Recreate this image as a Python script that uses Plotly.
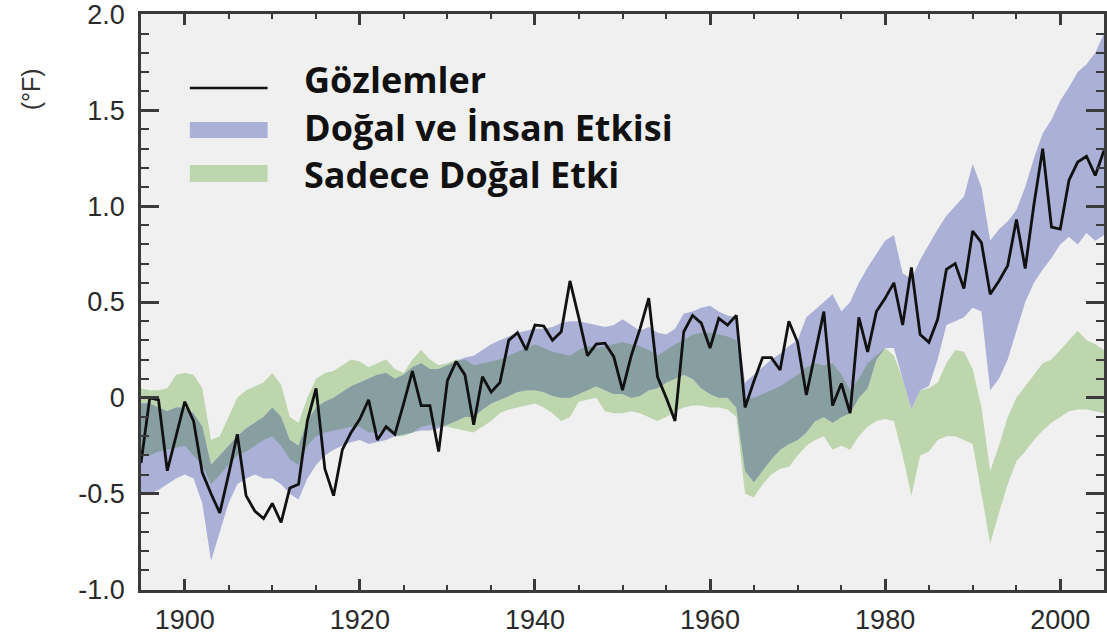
import plotly.graph_objects as go

years = list(range(1895, 2006))

observations = [
    -0.34, 0.0, -0.01, -0.38, -0.2, -0.02, -0.12, -0.39, -0.5, -0.6,      # 1895-1904
    -0.4, -0.19, -0.51, -0.59, -0.63, -0.55, -0.65, -0.47, -0.45, -0.12,  # 1905-1914
    0.05, -0.37, -0.51, -0.27, -0.18, -0.11, -0.01, -0.22, -0.15, -0.19,  # 1915-1924
    -0.03, 0.14, -0.04, -0.04, -0.28, 0.09, 0.19, 0.12, -0.14, 0.11,      # 1925-1934
    0.03, 0.08, 0.30, 0.34, 0.25, 0.38, 0.375, 0.30, 0.345, 0.61,        # 1935-1944
    0.42, 0.22, 0.28, 0.285, 0.215, 0.04, 0.22, 0.36, 0.52, 0.11,        # 1945-1954
    0.0, -0.12, 0.345, 0.43, 0.39, 0.26, 0.415, 0.38, 0.43, -0.05,       # 1955-1964
    0.085, 0.21, 0.21, 0.145, 0.40, 0.29, 0.015, 0.23, 0.45, -0.04,      # 1965-1974
    0.075, -0.08, 0.42, 0.24, 0.45, 0.52, 0.60, 0.38, 0.68, 0.33,        # 1975-1984
    0.29, 0.41, 0.67, 0.70, 0.57, 0.87, 0.81, 0.54, 0.61, 0.69,          # 1985-1994
    0.93, 0.675, 1.01, 1.30, 0.89, 0.88, 1.135, 1.23, 1.26, 1.16,        # 1995-2004
    1.29,                                                                # 2005
]

nat_human_upper = [
    -0.03, -0.03, -0.05, -0.07, -0.05, -0.05, -0.08, -0.15, -0.35, -0.3,
    -0.25, -0.2, -0.16, -0.13, -0.1, -0.05, -0.1, -0.22, -0.25, -0.12,
    -0.05, -0.02, 0.0, 0.03, 0.06, 0.08, 0.1, 0.12, 0.13, 0.1,
    0.12, 0.16, 0.18, 0.15, 0.15, 0.17, 0.19, 0.21, 0.22, 0.25,
    0.28, 0.3, 0.32, 0.34, 0.35, 0.36, 0.36, 0.37, 0.39, 0.4,
    0.4, 0.39, 0.38, 0.37, 0.38, 0.41, 0.38, 0.35, 0.37, 0.34,
    0.33, 0.36, 0.44, 0.45, 0.47, 0.48, 0.45, 0.43, 0.42, 0.08,
    0.12, 0.16, 0.2, 0.23, 0.27, 0.3, 0.42, 0.46, 0.5, 0.54,
    0.45, 0.5, 0.6, 0.68, 0.75, 0.82, 0.85, 0.65, 0.62, 0.72,
    0.8, 0.88, 0.95, 1.0, 1.05, 1.22, 1.1, 0.82, 0.88, 0.92,
    0.98, 1.1, 1.25, 1.38, 1.45, 1.55, 1.62, 1.7, 1.74, 1.8,
    1.9,
]

nat_human_lower = [
    -0.5, -0.5, -0.48, -0.45, -0.42, -0.4, -0.42, -0.55, -0.85, -0.7,
    -0.55, -0.45, -0.42, -0.4, -0.42, -0.42, -0.45, -0.5, -0.53, -0.42,
    -0.35, -0.3, -0.27, -0.25, -0.23, -0.22, -0.24, -0.23, -0.22, -0.2,
    -0.19, -0.18, -0.17, -0.17, -0.16, -0.14, -0.12, -0.1, -0.1, -0.06,
    -0.03, -0.01, 0.01, 0.03, 0.04, 0.04, 0.03, 0.01, 0.0, 0.0,
    0.02, 0.04, 0.06, 0.04, 0.02, 0.02, 0.0, 0.01, 0.04, 0.05,
    0.08, 0.1, 0.12, 0.1, 0.05, 0.02, 0.0, 0.0, -0.05, -0.38,
    -0.44, -0.38, -0.32, -0.27, -0.24, -0.22, -0.18, -0.12, -0.1, -0.13,
    -0.1, -0.08, 0.0, 0.05, 0.2, 0.26, 0.26, 0.1, -0.06, 0.04,
    0.06, 0.2, 0.38, 0.4, 0.42, 0.47, 0.45, 0.04, 0.1, 0.2,
    0.35, 0.5, 0.6, 0.67, 0.73, 0.8, 0.84, 0.8, 0.86, 0.82,
    0.85,
]

natural_upper = [
    0.05, 0.04, 0.04, 0.05, 0.12, 0.13, 0.12, 0.05, -0.22, -0.2,
    -0.1, 0.0, 0.04, 0.06, 0.08, 0.13, 0.07, -0.1, -0.13, 0.0,
    0.1, 0.13, 0.14, 0.17, 0.2, 0.19, 0.16, 0.18, 0.2, 0.15,
    0.13, 0.2, 0.25, 0.2, 0.17, 0.18, 0.2, 0.2, 0.17, 0.18,
    0.19, 0.2, 0.22, 0.24, 0.26, 0.28, 0.26, 0.24, 0.23, 0.22,
    0.25, 0.27, 0.26, 0.27, 0.28, 0.29, 0.28, 0.27, 0.25, 0.22,
    0.25, 0.28, 0.3, 0.33, 0.34, 0.34, 0.33, 0.32, 0.3, 0.0,
    0.0, 0.02, 0.04, 0.06, 0.09, 0.12, 0.16, 0.18, 0.17, 0.18,
    0.12, 0.04, 0.1, 0.18, 0.22, 0.26, 0.22, 0.1, -0.06, 0.04,
    0.05, 0.08, 0.18, 0.25, 0.24, 0.15, -0.05, -0.38, -0.25, -0.1,
    0.0, 0.06, 0.12, 0.18, 0.2, 0.25, 0.3, 0.35, 0.3, 0.28,
    0.25,
]

natural_lower = [
    -0.3, -0.3, -0.28, -0.27, -0.26, -0.25, -0.3, -0.35, -0.45, -0.4,
    -0.35, -0.3, -0.28, -0.25, -0.22, -0.2, -0.25, -0.32, -0.35, -0.25,
    -0.2, -0.18, -0.17, -0.16, -0.15, -0.15, -0.18, -0.18, -0.17, -0.2,
    -0.2, -0.18, -0.15, -0.14, -0.15, -0.15, -0.16, -0.17, -0.18, -0.15,
    -0.12, -0.08, -0.06, -0.05, -0.04, -0.03, -0.05, -0.08, -0.12, -0.1,
    -0.02, -0.01, 0.0, -0.07, -0.08, -0.08, -0.07, -0.08, -0.1, -0.12,
    -0.1, -0.07, -0.05, -0.04, -0.04, -0.05, -0.05, -0.06, -0.1, -0.5,
    -0.52, -0.45, -0.4, -0.37, -0.36, -0.3, -0.25, -0.22, -0.2, -0.27,
    -0.25, -0.27, -0.2, -0.15, -0.12, -0.11, -0.12, -0.3, -0.51, -0.3,
    -0.28, -0.22, -0.2, -0.2, -0.22, -0.24, -0.5, -0.76, -0.6, -0.45,
    -0.33, -0.28, -0.22, -0.17, -0.13, -0.1, -0.07, -0.06, -0.06, -0.07,
    -0.08,
]

legend_labels = ["Gözlemler", "Doğal ve İnsan Etkisi", "Sadece Doğal Etki"]
y_tick_vals = [-1.0, -0.5, 0, 0.5, 1.0, 1.5, 2.0]
y_tick_text = ["-1.0", "-0.5", "0", "0.5", "1.0", "1.5", "2.0"]
x_tick_vals = [1900, 1920, 1940, 1960, 1980, 2000]
y_unit = "(°F)"

BLUE = "#aab0d6"
GREEN = "#bdd6ae"
OVERLAP = "#889fa2"
BG = "#f0f0f0"

# overlap of the two envelopes
ov_hi, ov_lo = [], []
for a, b, c, d in zip(nat_human_upper, natural_upper, nat_human_lower, natural_lower):
    hi = min(a, b)
    lo = max(c, d)
    if lo > hi:
        mid = (hi + lo) / 2
        hi = lo = mid
    ov_hi.append(hi)
    ov_lo.append(lo)

fig = go.Figure()

def band(lower, upper, color):
    fig.add_trace(go.Scatter(x=years, y=lower, mode="lines", line=dict(width=0, color=color),
                             hoverinfo="skip", showlegend=False))
    fig.add_trace(go.Scatter(x=years, y=upper, mode="lines", line=dict(width=0, color=color),
                             fill="tonexty", fillcolor=color, hoverinfo="skip", showlegend=False))

band(natural_lower, natural_upper, GREEN)
band(nat_human_lower, nat_human_upper, BLUE)
band(ov_lo, ov_hi, OVERLAP)

fig.add_trace(go.Scatter(x=years, y=observations, mode="lines",
                         line=dict(color="#111111", width=2.8), showlegend=False))

# Legend drawn manually
L, W, T, H = 141, 966, 14, 576
def px(x):
    return (x - L) / W
def py(y):
    return (T + H - y) / H

fig.add_shape(type="line", xref="paper", yref="paper", x0=px(190), x1=px(268), y0=py(88), y1=py(88),
              line=dict(color="#111111", width=2.6))
fig.add_shape(type="rect", xref="paper", yref="paper", x0=px(190), x1=px(268), y0=py(138), y1=py(122),
              line=dict(width=0), fillcolor=BLUE)
fig.add_shape(type="rect", xref="paper", yref="paper", x0=px(190), x1=px(268), y0=py(182), y1=py(165),
              line=dict(width=0), fillcolor=GREEN)
for lbl, yy in zip(legend_labels, [79, 127, 175]):
    fig.add_annotation(text="<b>%s</b>" % lbl, xref="paper", yref="paper", x=px(302), y=py(yy),
                       xanchor="left", yanchor="middle", showarrow=False,
                       font=dict(family="Open Sans", size=36, color="#111111"))

fig.add_annotation(text=y_unit, xref="paper", yref="paper", x=px(31), y=py(89),
                   xanchor="center", yanchor="middle", textangle=-90, showarrow=False,
                   font=dict(family="Liberation Sans", size=25, color="#333333"))

axis_common = dict(showgrid=False, zeroline=False, showline=True, linecolor="#3a3a3a", linewidth=2.5,
                   mirror="ticks", ticks="inside", tickcolor="#3a3a3a", tickwidth=2.5,
                   ticklabeloverflow="allow",
                   tickfont=dict(family="Liberation Sans", size=27, color="#2a2a2a"))

fig.update_xaxes(range=[1895, 2005], tickvals=x_tick_vals, ticklen=11, ticklabelstandoff=4,
                 minor=dict(ticks="inside", dtick=5, tick0=1895, ticklen=5, tickwidth=2, tickcolor="#3a3a3a"),
                 **axis_common)
fig.update_yaxes(range=[-1.002, 2.002], tickvals=y_tick_vals, ticktext=y_tick_text, ticklen=18,
                 ticklabelstandoff=8,
                 minor=dict(ticks="inside", dtick=0.1, tick0=0, ticklen=8, tickwidth=2, tickcolor="#3a3a3a"),
                 **axis_common)

fig.update_layout(width=1107, height=640, margin=dict(l=141, r=0, t=14, b=50),
                  plot_bgcolor=BG, paper_bgcolor="white", showlegend=False)

fig.write_html("out.html", config={"displayModeBar": False},
               post_script="document.body.style.margin='0';")
